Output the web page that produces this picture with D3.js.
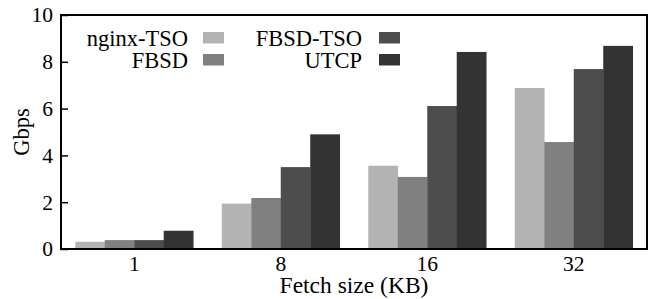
<!DOCTYPE html>
<html>
<head>
<meta charset="utf-8">
<script src="https://cdn.jsdelivr.net/npm/d3@7"></script>
<style>
  body { margin: 0; background: #fff; }
</style>
</head>
<body>
<div id="chart"></div>
<script>
// fetch sizes and the four series (Gbps)
var sizes = ["1", "8", "16", "32"];
var seriesNames = ["nginx-TSO", "FBSD", "FBSD-TSO", "UTCP"];
var nginxTso = [0.31, 1.94, 3.56, 6.88];
var fbsd = [0.38, 2.18, 3.08, 4.57];
var fbsdTso = [0.38, 3.50, 6.11, 7.69];
var utcp = [0.78, 4.90, 8.42, 8.68];
var yTicks = [0, 2, 4, 6, 8, 10];
var colors = ["#b3b3b3", "#808080", "#4d4d4d", "#333333"];

var series = [nginxTso, fbsd, fbsdTso, utcp];

var FONT = "Liberation Serif";
var w = 651;
var h = 299;
var padL = 61, padR = 647, padT = 15, padB = 249;

var svg = d3.select("#chart")
            .append("svg")
            .attr("width", w)
            .attr("height", h);

var x0 = d3.scaleBand()
           .domain(sizes)
           .range([padL, padR])
           .paddingInner(0.195)
           .paddingOuter(0.0975);

var x1 = d3.scaleBand()
           .domain(seriesNames)
           .range([0, x0.bandwidth()]);

var yScale = d3.scaleLinear()
               .domain([0, 10])
               .range([padB, padT]);

// bars
var groups = svg.selectAll("g.group")
  .data(sizes)
  .enter()
  .append("g")
  .attr("class", "group")
  .attr("transform", function(d) { return "translate(" + x0(d) + ",0)"; });

groups.selectAll("rect")
  .data(function(d, i) {
    return seriesNames.map(function(name, k) { return { name: name, k: k, value: series[k][i] }; });
  })
  .enter()
  .append("rect")
  .attr("x", function(d) { return x1(d.name); })
  .attr("width", x1.bandwidth() + 0.3)
  .attr("y", function(d) { return yScale(d.value); })
  .attr("height", function(d) { return yScale(0) - yScale(d.value); })
  .attr("fill", function(d) { return colors[d.k]; });

// y axis, ticks pointing inward
var yAxis = d3.axisLeft(yScale)
              .tickValues(yTicks)
              .tickSizeInner(-7)
              .tickSizeOuter(0)
              .tickPadding(8);

svg.append("g")
   .attr("transform", "translate(" + padL + ",0)")
   .call(yAxis)
   .call(function(g) {
     g.select(".domain").remove();
     g.selectAll("line").attr("stroke-width", 1.5);
     g.selectAll("text")
      .attr("font-family", FONT)
      .attr("font-size", 21.5)
      .attr("fill", "#000");
   });

// x axis labels
var xAxis = d3.axisBottom(x0).tickSize(0).tickPadding(7);
svg.append("g")
   .attr("transform", "translate(0," + padB + ")")
   .call(xAxis)
   .call(function(g) {
     g.select(".domain").remove();
     g.selectAll("text")
      .attr("font-family", FONT)
      .attr("font-size", 21.5)
      .attr("fill", "#000");
   });

// border box
svg.append("rect")
   .attr("x", padL)
   .attr("y", padT)
   .attr("width", padR - padL)
   .attr("height", padB - padT)
   .attr("fill", "none")
   .attr("stroke", "#000")
   .attr("stroke-width", 2);

// axis titles
svg.append("text")
   .attr("x", (padL + padR) / 2)
   .attr("y", 293)
   .attr("text-anchor", "middle")
   .attr("font-family", FONT)
   .attr("font-size", 23.5)
   .text("Fetch size (KB)");

svg.append("text")
   .attr("transform", "translate(29," + (padT + padB) / 2 + ") rotate(-90)")
   .attr("text-anchor", "middle")
   .attr("font-family", FONT)
   .attr("font-size", 22.5)
   .text("Gbps");

// legend, two columns of two
var legendCols = [
  { textX: 188, swX: 203 },
  { textX: 362, swX: 379 }
];
var legendRows = [46, 68];

var legend = svg.selectAll("g.legend")
  .data(seriesNames)
  .enter()
  .append("g")
  .attr("class", "legend");

legend.append("text")
  .attr("x", function(d, i) { return legendCols[Math.floor(i / 2)].textX; })
  .attr("y", function(d, i) { return legendRows[i % 2]; })
  .attr("text-anchor", "end")
  .attr("font-family", FONT)
  .attr("font-size", 22.5)
  .text(function(d) { return d; });

legend.append("rect")
  .attr("x", function(d, i) { return legendCols[Math.floor(i / 2)].swX; })
  .attr("y", function(d, i) { return legendRows[i % 2] - 14; })
  .attr("width", 21)
  .attr("height", 11.5)
  .attr("fill", function(d, i) { return colors[i]; });
</script>
</body>
</html>
